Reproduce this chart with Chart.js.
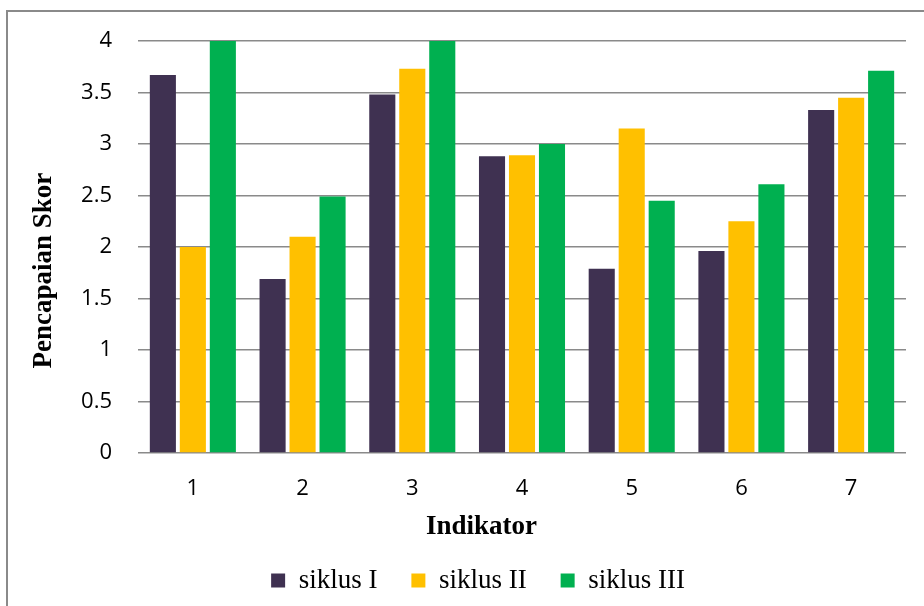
<!DOCTYPE html>
<html>
<head>
<meta charset="utf-8">
<script src="https://cdn.jsdelivr.net/npm/chart.js@4"></script>
<style>
  body { margin: 0; background: #fff; overflow: hidden; }
  #frame { position: absolute; left: 6px; top: 10px; width: 1000px; height: 700px; border: 2px solid #8a8a8a; }
  #wrap { position: absolute; left: 0; top: 0; width: 924px; height: 606px; }
</style>
</head>
<body>
<div id="frame"></div>
<div id="wrap"><canvas id="myChart" width="924" height="606"></canvas></div>
<script>
const indikator = ['1', '2', '3', '4', '5', '6', '7'];
const siklusI = [3.67, 1.69, 3.48, 2.88, 1.79, 1.96, 3.33];
const siklusII = [2.0, 2.1, 3.73, 2.89, 3.15, 2.25, 3.45];
const siklusIII = [4.0, 2.49, 4.0, 3.0, 2.45, 2.61, 3.71];
const seriesNames = ['siklus I', 'siklus II', 'siklus III'];
const colors = ['#3F3151', '#FFC000', '#00B050'];

const sans = "'Open Sans', 'Liberation Sans', sans-serif";
const serif = "'Liberation Serif', 'DejaVu Serif', serif";
// trailing spaces nudge the centred axis titles like in the original
const pad = (n) => '\u00A0'.repeat(n);

const ctx = document.getElementById('myChart').getContext('2d');
new Chart(ctx, {
  type: 'bar',
  data: {
    labels: indikator,
    datasets: [siklusI, siklusII, siklusIII].map((vals, i) => ({
      label: seriesNames[i],
      data: vals,
      backgroundColor: colors[i],
      categoryPercentage: 0.82,
      barPercentage: 0.87
    }))
  },
  options: {
    responsive: false,
    animation: false,
    layout: { padding: { left: 50, right: 18, top: 41, bottom: 2 } },
    plugins: {
      tooltip: { enabled: false },
      legend: {
        position: 'bottom',
        labels: {
          boxWidth: 14,
          boxHeight: 14,
          padding: 34,
          color: '#000',
          font: { family: serif, size: 27 }
        }
      }
    },
    scales: {
      x: {
        grid: { display: false },
        border: { display: false },
        ticks: { color: '#000', padding: 15, font: { family: sans, size: 22 } },
        title: {
          display: true,
          text: 'Indikator' + pad(12),
          color: '#000',
          padding: { top: 0, bottom: -10 },
          font: { family: serif, size: 27, weight: 'bold' }
        },
        afterFit: (scale) => { scale.height = 80; }
      },
      y: {
        min: 0,
        max: 4,
        ticks: {
          stepSize: 0.5,
          color: '#000',
          padding: 26,
          font: { family: sans, size: 22 },
          callback: (v) => String(Math.round(v * 10) / 10)
        },
        grid: { color: '#8a8a8a', lineWidth: 1.5, drawTicks: false },
        border: { display: false },
        title: {
          display: true,
          text: 'Pencapaian Skor' + pad(7),
          color: '#000',
          padding: { top: -22, bottom: 0 },
          font: { family: serif, size: 27, weight: 'bold' }
        },
        afterFit: (scale) => { scale.width = 88; }
      }
    }
  }
});
</script>
</body>
</html>
